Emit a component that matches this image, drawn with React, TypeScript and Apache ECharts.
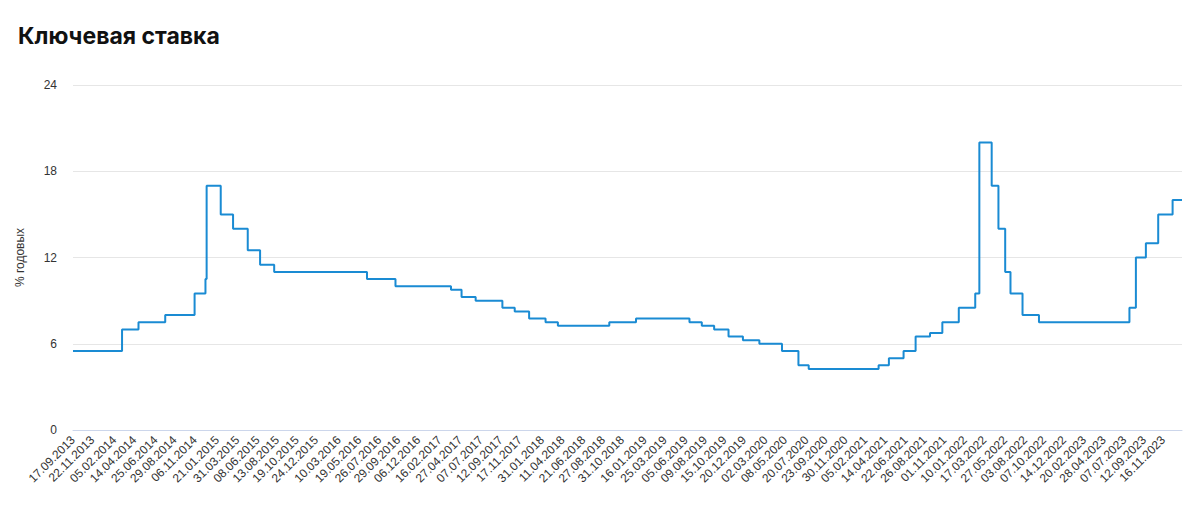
import React, { useEffect, useRef } from "react";
import * as echarts from "echarts";

const changeDates = [
  "17.09.2013", "03.03.2014", "28.04.2014", "28.07.2014", "05.11.2014", "12.12.2014", "16.12.2014",
  "02.02.2015", "16.03.2015", "05.05.2015", "16.06.2015", "03.08.2015", "14.06.2016", "19.09.2016",
  "27.03.2017", "02.05.2017", "19.06.2017", "18.09.2017", "30.10.2017", "18.12.2017", "12.02.2018",
  "26.03.2018", "17.09.2018", "17.12.2018", "17.06.2019", "29.07.2019", "09.09.2019", "28.10.2019",
  "16.12.2019", "10.02.2020", "27.04.2020", "22.06.2020", "27.07.2020", "22.03.2021", "26.04.2021",
  "15.06.2021", "26.07.2021", "13.09.2021", "25.10.2021", "20.12.2021", "14.02.2022", "28.02.2022",
  "11.04.2022", "04.05.2022", "27.05.2022", "14.06.2022", "25.07.2022", "19.09.2022", "24.07.2023",
  "15.08.2023", "18.09.2023", "30.10.2023", "18.12.2023", "19.01.2024",
];
const rates = [
  5.5, 7, 7.5, 8, 9.5, 10.5, 17, 15, 14, 12.5, 11.5, 11, 10.5, 10, 9.75, 9.25, 9, 8.5, 8.25, 7.75, 7.5,
  7.25, 7.5, 7.75, 7.5, 7.25, 7, 6.5, 6.25, 6, 5.5, 4.5, 4.25, 4.5, 5, 5.5, 6.5, 6.75, 7.5, 8.5, 9.5, 20,
  17, 14, 11, 9.5, 8, 7.5, 8.5, 12, 13, 15, 16, 16,
];
const tickLabels = [
  "17.09.2013", "22.11.2013", "05.02.2014", "14.04.2014", "25.06.2014", "29.08.2014", "06.11.2014",
  "21.01.2015", "31.03.2015", "08.06.2015", "13.08.2015", "19.10.2015", "24.12.2015", "10.03.2016",
  "19.05.2016", "26.07.2016", "29.09.2016", "06.12.2016", "16.02.2017", "27.04.2017", "07.07.2017",
  "12.09.2017", "17.11.2017", "31.01.2018", "11.04.2018", "21.06.2018", "27.08.2018", "31.10.2018",
  "16.01.2019", "25.03.2019", "05.06.2019", "09.08.2019", "15.10.2019", "20.12.2019", "02.03.2020",
  "08.05.2020", "20.07.2020", "23.09.2020", "30.11.2020", "05.02.2021", "14.04.2021", "22.06.2021",
  "26.08.2021", "01.11.2021", "10.01.2022", "17.03.2022", "27.05.2022", "03.08.2022", "07.10.2022",
  "14.12.2022", "20.02.2023", "28.04.2023", "07.07.2023", "12.09.2023", "16.11.2023",
];
const yTicks = [0, 6, 12, 18, 24];

const DAY = 86400000;
// days since the Unix epoch (UTC)
const parseDate = (s: string) => {
  const [d, m, y] = s.split(".").map(Number);
  return Date.UTC(y, m - 1, d) / DAY;
};
const pad = (n: number) => (n < 10 ? "0" + n : "" + n);
const fmtDate = (v: number) => {
  const d = new Date(Math.round(v) * DAY);
  return pad(d.getUTCDate()) + "." + pad(d.getUTCMonth() + 1) + "." + d.getUTCFullYear();
};

export default function App() {
  const ref = useRef<HTMLDivElement>(null);
  useEffect(() => {
    if (!ref.current) return;
    const chart = echarts.init(ref.current, null, { renderer: "svg" });
    const data = changeDates.map((d, i) => [parseDate(d), rates[i]]);
    const tickValues = tickLabels.map(parseDate);
    chart.setOption({
      animation: false,
      backgroundColor: "#ffffff",
      title: {
        text: "Ключевая ставка",
        left: 13,
        top: 19,
        textStyle: { fontSize: 23, fontWeight: "bold", color: "#111111", fontFamily: "Inter" },
      },
      grid: { left: 73, right: 18, top: 85, bottom: 97, outerBoundsMode: "none" },
      xAxis: {
        type: "value",
        min: parseDate(changeDates[0]),
        max: parseDate(changeDates[changeDates.length - 1]),
        axisLine: { show: true, lineStyle: { color: "#ccd6eb", width: 1 } },
        axisTick: { show: false },
        splitLine: { show: false },
        axisLabel: {
          customValues: tickValues,
          formatter: (v: number) => fmtDate(v),
          rotate: 45,
          fontSize: 12,
          color: "#333333",
          fontFamily: "Liberation Sans",
          margin: 8,
          hideOverlap: false,
          showMinLabel: true,
          showMaxLabel: true,
        },
      },
      yAxis: {
        type: "value",
        min: yTicks[0],
        max: yTicks[yTicks.length - 1],
        interval: 6,
        name: "% годовых",
        nameLocation: "middle",
        nameRotate: 90,
        nameGap: 47,
        nameTextStyle: { fontSize: 12, color: "#333333", fontFamily: "Liberation Sans" },
        axisLine: { show: false },
        axisTick: { show: false },
        axisLabel: { fontSize: 12, color: "#333333", margin: 16, fontFamily: "Liberation Sans" },
        splitLine: { lineStyle: { color: "#e6e6e6", width: 1 } },
      },
      series: [
        {
          type: "line",
          step: "end",
          data,
          showSymbol: false,
          lineStyle: { color: "#1a8bd3", width: 2 },
          itemStyle: { color: "#1a8bd3" },
        },
      ],
    });
    return () => chart.dispose();
  }, []);
  return (
    <div
      ref={ref}
      style={{ position: "absolute", left: 0, top: 0, width: 1200, height: 527 }}
    />
  );
}
